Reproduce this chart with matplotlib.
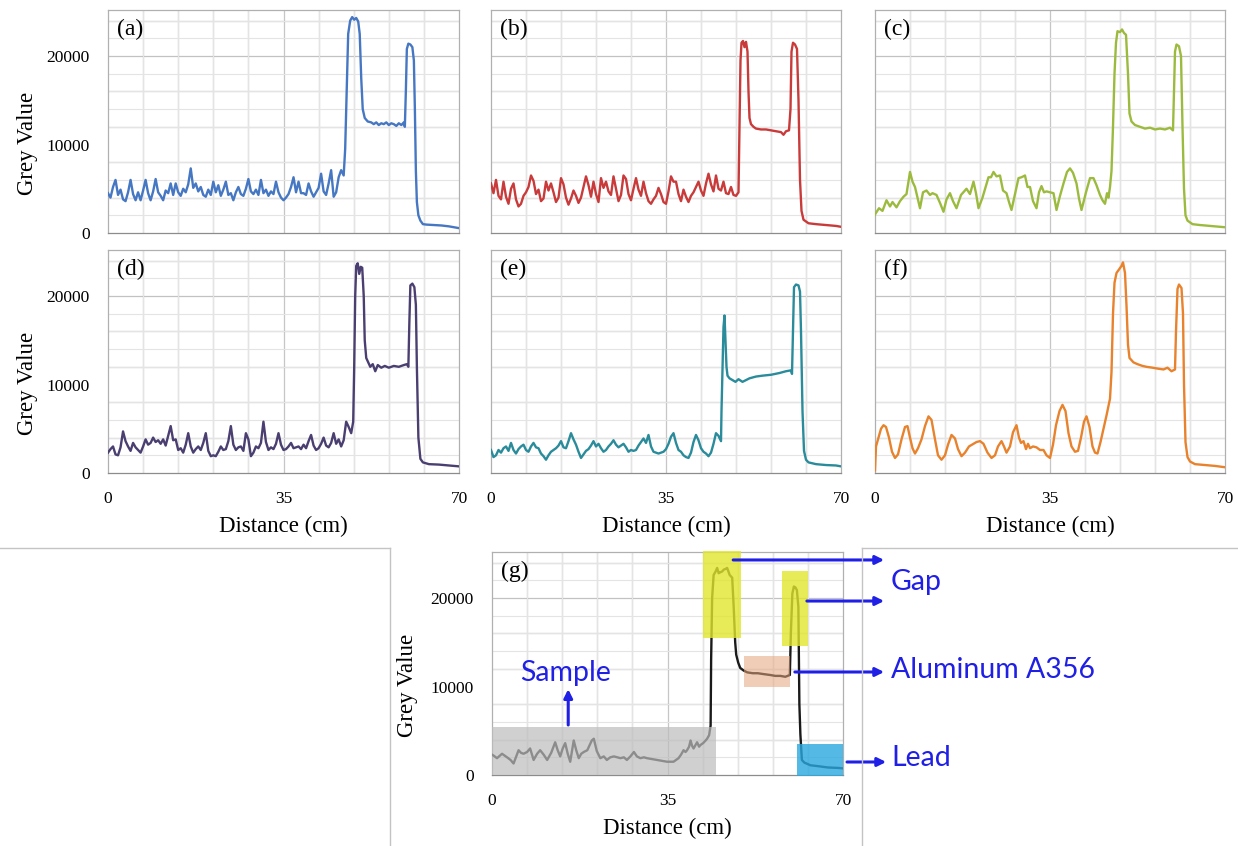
import numpy as np
import matplotlib
matplotlib.use("Agg")
import matplotlib.pyplot as plt
from matplotlib.ticker import MultipleLocator, FixedLocator
from matplotlib.lines import Line2D

# ---------------- data (grey value vs distance, cm) ----------------
STEP = 0.5  # sampling step of the noisy baseline lists (cm)

base_a = [4500, 4000, 5200, 6000, 4300, 4900, 3800, 3600, 4600, 6000, 4400, 3700, 4600, 3700, 4800, 6000,
          4500, 3700, 4700, 6100, 4600, 4200, 3700, 4800, 4500, 5600, 4300, 5600, 4600, 4200, 5000, 4600,
          5500, 7300, 5100, 5600, 4700, 5200, 4300, 4100, 4900, 4300, 5800, 4600, 5400, 4200, 4900, 5800,
          4300, 4500, 3700, 4600, 5200, 4400, 4200, 5000, 6100, 4700, 4400, 4900, 4300, 6000, 4500, 4900,
          4200, 4700, 4400, 5800, 4600, 4000, 3700, 4000, 4400, 5200, 6300, 4600, 5800, 4500, 4500, 4300,
          5600, 4700, 4100, 4600, 5100, 6700, 4700, 4300, 5600, 7100, 4100, 4600, 6300, 7100]
tail_x_a = [47.0, 47.3, 47.6, 47.9, 48.3, 48.7, 49.1, 49.5, 49.9, 50.2, 50.5, 50.8, 51.2, 51.8, 52.5, 53.0,
            53.5, 54.0, 54.5, 55.0, 55.5, 56.0, 56.5, 57.0, 57.5, 58.0, 58.5, 59.0, 59.2, 59.4, 59.6, 59.9,
            60.3, 60.7, 61.0, 61.2, 61.4, 61.6, 61.9, 62.3, 62.8, 63.5, 65.0, 66.5, 68.0, 69.0, 70.0]
tail_y_a = [6500, 9500, 16000, 22500, 24000, 24400, 24100, 24300, 23900, 22500, 17500, 14000, 13000, 12600,
            12500, 12300, 12500, 12200, 12400, 12300, 12500, 12200, 12400, 12300, 12100, 12400, 12200, 12500,
            12000, 16000, 20800, 21400, 21300, 21000, 19500, 14000, 7000, 3500, 2000, 1400, 1000, 950, 900,
            850, 750, 650, 550]

base_b = [5600, 4500, 6000, 4200, 3800, 5800, 4100, 3300, 5000, 5600, 3800, 3000, 3300, 4200, 4600, 5200,
          6500, 5900, 4400, 4900, 3600, 3900, 5800, 4800, 5600, 4600, 3500, 4000, 6200, 5500, 4000, 3200,
          3900, 4800, 4200, 3400, 4000, 5200, 6400, 5400, 4100, 5800, 4400, 3500, 6200, 5100, 5800, 4700,
          4300, 6400, 5000, 3600, 4300, 6500, 6100, 4400, 3700, 5000, 6200, 4900, 4200, 5800, 4500, 3600,
          3300, 3800, 4200, 5100, 4400, 3500, 3300, 4700, 6400, 5800, 5800, 4400, 3600, 4900, 4100, 3500,
          4200, 4600, 5200, 5800, 4800, 4200, 5600, 6700, 5500, 4700, 6500, 5000, 4800, 5800, 4500, 4400,
          5200, 4300, 4200, 4600]
tail_x_b = [49.7, 49.9, 50.1, 50.4, 50.7, 51.0, 51.3, 51.5, 51.7, 52.0, 52.5, 53.0, 54.0, 55.0, 56.0, 57.0,
            58.0, 58.5, 59.0, 59.6, 59.9, 60.1, 60.4, 60.8, 61.2, 61.5, 61.8, 62.1, 62.5, 63.5, 65.0, 67.0,
            69.0, 70.0]
tail_y_b = [12000, 19500, 21500, 21700, 21000, 21600, 20500, 16000, 13000, 12300, 12000, 11800, 11700,
            11700, 11600, 11500, 11400, 11100, 11500, 11600, 14000, 20500, 21500, 21300, 20800, 15000, 6000,
            2500, 1500, 1100, 1000, 900, 800, 700]

x_c = [0.0, 0.8, 1.5, 2.3, 3.0, 3.5, 4.3, 5.0, 5.7, 6.3, 7.0, 7.5, 8.0, 8.5, 9.0, 9.6, 10.3, 11.0, 11.5,
       12.3, 13.0, 13.7, 14.3, 15.0, 15.6, 16.3, 17.2, 18.3, 19.0, 19.7, 20.2, 20.7, 21.5, 22.7, 23.2, 23.7,
       24.3, 25.0, 25.6, 26.3, 26.8, 27.3, 28.0, 28.7, 29.3, 30.0, 30.5, 31.0, 31.6, 32.3, 32.8, 33.3, 33.8,
       34.3, 35.0, 35.7, 36.3, 37.0, 37.7, 38.4, 39.0, 39.6, 40.3, 40.8, 41.3, 42.2, 43.0, 43.7, 44.3, 45.0,
       45.5, 46.0, 46.4, 46.7, 47.0, 47.3, 47.6, 47.9, 48.2, 48.5, 49.0, 49.4, 49.8, 50.2, 50.6, 50.9, 51.3,
       52.0, 53.0, 54.0, 55.0, 56.0, 57.0, 58.0, 59.0, 59.6, 59.8, 60.0, 60.3, 60.8, 61.2, 61.5, 61.8, 62.1,
       62.5, 63.5, 65.0, 67.0, 69.0, 70.0]
y_c = [2100, 2800, 2500, 3700, 3000, 3500, 2900, 3600, 4100, 4400, 6900, 5800, 5200, 4000, 2800, 4600, 4800,
       4300, 4500, 4300, 3400, 2400, 3800, 4500, 3600, 2800, 4300, 5000, 4400, 5800, 4500, 2800, 4000, 6300,
       6300, 6900, 6400, 6500, 4800, 4500, 3500, 2600, 4400, 6200, 6300, 6500, 5200, 5200, 3600, 2800, 4600,
       5300, 4600, 4700, 4600, 4500, 2600, 4200, 5600, 6900, 7300, 6800, 5600, 3900, 2600, 4600, 6200, 6200,
       5400, 4300, 3700, 3300, 4500, 4000, 5200, 7000, 12000, 18000, 21500, 22800, 22700, 23000, 22600, 22400,
       18000, 13500, 12600, 12200, 12000, 11800, 11900, 11700, 11800, 11700, 11900, 11600, 16000, 20500,
       21300, 21100, 20000, 12000, 5000, 2000, 1400, 1000, 900, 800, 700, 650]

base_d = [2300, 2700, 3000, 2100, 2000, 2900, 4700, 3600, 3000, 2500, 3400, 2900, 2600, 2300, 3000, 3800,
          3200, 3400, 4000, 3500, 3700, 3300, 3800, 3100, 4200, 5300, 3700, 3800, 2600, 2800, 2300, 3200,
          4500, 3000, 2300, 2700, 3000, 2600, 3400, 4500, 2500, 1900, 2000, 1900, 2400, 3000, 2600, 2700,
          3600, 5300, 3200, 2600, 2900, 3000, 2500, 4500, 3800, 1900, 2300, 3000, 2800, 3400, 5800, 3500,
          2600, 2900, 2700, 3300, 4500, 3200, 2600, 2700, 3000, 3400, 2800, 2900, 3000, 2700, 3200, 2800,
          3600, 4300, 3100, 2600, 2800, 3300, 4000, 3100, 2900, 3400, 4500, 3300, 3800, 3000, 3700, 5800,
          5200, 4500]
tail_x_d = [48.9, 49.1, 49.3, 49.5, 49.8, 50.1, 50.4, 50.7, 51.0, 51.2, 51.5, 51.9, 52.3, 52.8, 53.3, 53.8,
            54.5, 55.2, 56.0, 57.0, 58.0, 59.0, 59.6, 59.9, 60.1, 60.3, 60.7, 61.1, 61.4, 61.6, 61.9, 62.3,
            62.8, 64.0, 66.0, 68.0, 70.0]
tail_y_d = [5800, 12000, 20000, 23400, 23700, 22500, 23300, 23200, 20000, 15000, 13000, 12500, 12000, 12300,
            11500, 12200, 11900, 12100, 11900, 12100, 12000, 12200, 12300, 12000, 17000, 21200, 21400, 21000,
            19000, 12000, 4000, 1600, 1200, 1000, 950, 850, 750]

base_e = [2600, 1800, 2000, 2600, 2300, 2800, 3000, 2500, 3400, 2600, 2200, 2700, 3000, 3200, 2600, 2400,
          3000, 3400, 2900, 2800, 2200, 1900, 1500, 2000, 2400, 2600, 2800, 3100, 3600, 2900, 2800, 3600,
          4500, 3800, 3200, 2400, 1700, 2100, 2500, 2700, 3100, 3600, 3000, 3300, 2800, 2400, 2600, 3000,
          3300, 3700, 3200, 2900, 3100, 3300, 2900, 2400, 2600, 2500, 2600, 3100, 3500, 3900, 3400, 4300,
          3000, 2400, 2300, 2200, 2300, 2400, 2700, 3300, 4100, 4500, 3400, 2600, 2400, 2000, 1800, 1700,
          2300, 3500, 4300, 3700, 2800, 2400, 2200, 1900, 2300, 3300, 4500, 4200, 3600]
tail_x_e = [46.1, 46.3, 46.5, 46.7, 46.9, 47.1, 47.3, 47.7, 48.3, 48.9, 49.5, 50.3, 51.0, 51.7, 53.0, 54.3,
            56.0, 57.7, 59.0, 60.0, 60.2, 60.4, 60.6, 61.0, 61.5, 61.8, 62.0, 62.3, 62.6, 63.0, 63.5, 65.0,
            67.0, 69.0, 70.0]
tail_y_e = [7000, 12000, 16500, 17800, 15000, 12000, 11000, 10700, 10500, 10300, 10600, 10300, 10500, 10700,
            10900, 11000, 11100, 11300, 11500, 11600, 11200, 16000, 21000, 21300, 21200, 20500, 16000, 7000,
            2500, 1500, 1200, 1000, 900, 850, 750]

x_f = [0.0, 0.2, 0.7, 1.2, 1.7, 2.2, 2.8, 3.4, 4.0, 4.6, 5.3, 6.0, 6.5, 7.0, 7.5, 8.0, 8.6, 9.3, 10.0, 10.7,
       11.3, 12.0, 12.6, 13.3, 14.0, 14.6, 15.3, 16.0, 16.6, 17.3, 18.0, 18.8, 19.7, 20.3, 21.0, 21.7, 22.5,
       23.3, 24.0, 24.6, 25.3, 25.8, 26.3, 27.0, 27.6, 28.3, 28.8, 29.2, 29.7, 30.2, 30.6, 31.0, 31.6, 32.3,
       33.0, 33.7, 34.3, 35.0, 35.6, 36.2, 36.9, 37.5, 38.1, 38.7, 39.3, 40.0, 40.6, 41.2, 41.8, 42.3, 42.9,
       43.5, 44.0, 44.5, 45.1, 45.7, 46.3, 47.0, 47.3, 47.6, 47.9, 48.3, 48.8, 49.3, 49.6, 50.0, 50.3, 50.6,
       50.9, 51.7, 52.5, 53.5, 54.3, 55.5, 56.5, 57.7, 58.5, 59.3, 60.0, 60.2, 60.5, 60.8, 61.3, 61.6, 61.8,
       62.1, 62.5, 63.0, 64.0, 66.0, 68.0, 70.0]
y_f = [300, 3000, 4000, 5000, 5400, 5200, 4000, 2400, 1700, 2100, 3800, 5200, 5300, 4000, 2800, 2200, 2800,
       3800, 5300, 6400, 6000, 3800, 2000, 1500, 2000, 3200, 4300, 3900, 2700, 1900, 2300, 3000, 3300, 3500,
       3600, 3300, 2300, 1700, 2000, 3000, 3600, 3000, 2300, 3000, 4600, 5400, 4000, 3400, 3600, 2700, 3300,
       2800, 3000, 2900, 2600, 2600, 2000, 1700, 3200, 5400, 7000, 7700, 7000, 4500, 3000, 2400, 2500, 4000,
       5800, 6400, 5200, 3000, 2300, 2200, 3500, 5000, 6500, 8400, 11400, 18000, 21500, 22600, 23000, 23400,
       23800, 22600, 18900, 14500, 13000, 12500, 12300, 12100, 12000, 11900, 11800, 11700, 11900, 11500,
       11700, 16000, 20800, 21300, 20900, 18000, 10000, 3500, 1800, 1300, 1000, 900, 800, 650]

x_g = [0.0, 0.3, 1.0, 2.0, 3.0, 3.7, 4.3, 5.3, 5.8, 6.3, 7.0, 7.6, 8.3, 9.0, 9.6, 10.3, 11.0, 11.8, 12.6,
       13.1, 13.6, 14.1, 14.6, 15.1, 15.6, 16.3, 16.8, 17.3, 17.8, 18.3, 19.0, 19.9, 20.3, 20.9, 21.6, 22.3,
       22.9, 23.6, 24.3, 25.0, 25.6, 26.3, 26.9, 27.6, 28.3, 28.9, 29.6, 30.3, 30.9, 31.9, 32.9, 33.9, 34.9,
       35.6, 36.2, 36.7, 37.2, 37.7, 38.2, 38.6, 38.9, 39.3, 39.6, 39.9, 40.2, 40.6, 40.9, 41.3, 41.6, 42.1,
       42.6, 42.9, 43.3, 43.6, 43.7, 43.9, 44.2, 44.6, 44.9, 45.2, 45.5, 45.9, 46.2, 46.6, 46.9, 47.4, 47.9,
       48.2, 48.5, 48.7, 49.1, 49.5, 50.2, 50.9, 52.0, 53.0, 54.2, 55.5, 56.5, 57.5, 58.5, 59.4, 59.6, 59.9,
       60.2, 60.5, 60.8, 61.1, 61.3, 61.5, 61.8, 62.3, 63.5, 65.0, 67.0, 69.0, 70.0]
y_g = [2300, 2200, 1900, 2400, 2000, 1700, 1300, 2800, 2500, 2400, 2600, 3000, 1700, 2400, 2800, 2300, 1700,
       2500, 3700, 2800, 2100, 3000, 3600, 2400, 1500, 3900, 2800, 1900, 2400, 2600, 2800, 3900, 4100, 2700,
       1900, 2100, 1700, 2000, 2100, 2000, 1900, 2000, 1700, 2100, 2600, 2100, 1900, 2000, 1900, 1800, 1700,
       1600, 1500, 1500, 1500, 1700, 1900, 2300, 2800, 2600, 2800, 3200, 3900, 3300, 3000, 3400, 3700, 3200,
       3400, 3600, 3900, 4100, 4500, 5600, 13000, 20000, 22600, 23000, 23400, 22800, 22900, 23000, 23200,
       23300, 23400, 22600, 22300, 19000, 15000, 13600, 12700, 12100, 11800, 11600, 11500, 11500, 11400,
       11300, 11200, 11200, 11100, 11300, 16000, 20500, 21300, 21200, 20900, 19000, 8000, 4600, 1700, 1400,
       1100, 1000, 850, 800, 750]

panel_labels = ["(a)", "(b)", "(c)", "(d)", "(e)", "(f)", "(g)"]
colors = ["#4677c2", "#c93a3a", "#9cbb3e", "#4a3f70", "#2a8b9b", "#e8822c", "#1a1a1a"]
x_ticks = [0, 35, 70]
x_ticklabels = ["0", "35", "70"]
y_ticks = [0, 10000, 20000]
y_ticklabels = ["0", "10000", "20000"]


def join(base, tx, ty):
    bx = list(np.arange(len(base)) * STEP)
    return bx + list(tx), list(base) + list(ty)


series = [
    join(base_a, tail_x_a, tail_y_a),
    join(base_b, tail_x_b, tail_y_b),
    (x_c, y_c),
    join(base_d, tail_x_d, tail_y_d),
    join(base_e, tail_x_e, tail_y_e),
    (x_f, y_f),
    (x_g, y_g),
]

# ---------------- layout ----------------
W, H = 1238, 846
fig = plt.figure(figsize=(W / 100, H / 100), dpi=100)
fig.patch.set_facecolor("white")
SERIF = ["Liberation Serif", "DejaVu Serif"]
SANS = ["Lato", "DejaVu Sans"]

# pixel boxes: left, right, top, bottom
boxes = [
    (108, 459, 10, 233), (491, 841, 10, 233), (875, 1225, 10, 233),
    (108, 459, 250, 473), (491, 841, 250, 473), (875, 1225, 250, 473),
    (492, 843, 552, 775),
]
YMAX = 25200

axes = []
for i, (l, r, t, b) in enumerate(boxes):
    ax = fig.add_axes([l / W, 1 - b / H, (r - l) / W, (b - t) / H])
    x, y = series[i]
    ax.set_xlim(0, 70)
    ax.set_ylim(0, YMAX)
    # grid
    ax.xaxis.set_major_locator(FixedLocator(x_ticks))
    ax.xaxis.set_minor_locator(MultipleLocator(7))
    ax.yaxis.set_major_locator(FixedLocator(y_ticks))
    ax.yaxis.set_minor_locator(MultipleLocator(2000))
    ax.grid(False)
    ax.grid(which="minor", axis="both", color="#e4e4e4", lw=0.8, zorder=0)
    for xv in range(7, 70, 7):
        ax.axvline(xv, color="#c6c6c6", lw=0.9, zorder=0.5)
    for yv in range(4000, 25000, 4000):
        ax.axhline(yv, color="#c2c2c2", lw=0.9, zorder=0.5)
    ax.tick_params(which="both", length=0)
    for sp in ax.spines.values():
        sp.set_color("#b0b0b0")
        sp.set_linewidth(0.9)
    ax.spines["bottom"].set_color("#8c8c8c")

    ax.plot(x, y, color=colors[i], lw=1.7, zorder=3, solid_joinstyle="round")

    ax.text(0.026, 0.915, panel_labels[i], transform=ax.transAxes, fontsize=17,
            family=SERIF, va="center", ha="left", zorder=5)

    col = i % 3 if i < 6 else 0
    row = i // 3 if i < 6 else 2
    if col == 0 or i == 6:
        ax.set_yticklabels(y_ticklabels, family=SERIF, fontsize=12.5)
        ax.tick_params(axis="y", pad=13)
        ax.set_ylabel("Grey Value", family=SERIF, fontsize=16.5)
        lx = (38 - l) / (r - l) if i != 6 else (418 - l) / (r - l)
        ax.yaxis.set_label_coords(lx, 0.40)
    else:
        ax.set_yticklabels([])
    if row >= 1:
        ax.set_xticklabels(x_ticklabels, family=SERIF, fontsize=12.5)
        ax.tick_params(axis="x", pad=13)
        ax.set_xlabel("Distance (cm)", family=SERIF, fontsize=16.5, labelpad=6)
    else:
        ax.set_xticklabels([])
    axes.append(ax)

# ---------------- annotations on panel (g) ----------------
axg = axes[6]
highlights = [
    # (x0, y0, x1, y1, color, alpha)
    (0.0, 0, 44.7, 5400, "#bdbdbd", 0.7),
    (42.1, 15500, 49.7, 25300, "#e2e62e", 0.8),
    (57.8, 14600, 63.0, 23000, "#e2e62e", 0.8),
    (50.2, 9900, 59.4, 13400, "#e4a57c", 0.55),
    (60.8, -150, 70.0, 3500, "#2aa8e0", 0.8),
]
for x0, y0, x1, y1, c, a in highlights:
    axg.add_patch(plt.Rectangle((x0, y0), x1 - x0, y1 - y0, facecolor=c, edgecolor="none",
                                alpha=a, zorder=4, clip_on=False))

BLUE = "#1f1fe6"
arrows = [
    ((48.1, 24300), (78.2, 24300)),
    ((62.8, 19660), (78.2, 19660)),
    ((60.4, 11640), (78.2, 11640)),
    ((70.8, 1470), (78.6, 1470)),
    ((15.2, 5650), (15.2, 9700)),
]
for (sx, sy), (ex, ey) in arrows:
    axg.annotate("", xy=(ex, ey), xytext=(sx, sy), xycoords="data", textcoords="data",
                 annotation_clip=False,
                 arrowprops=dict(arrowstyle="-|>,head_length=0.5,head_width=0.25", color=BLUE,
                                 lw=2.2, shrinkA=0, shrinkB=0), zorder=6)

labels_g = [("Gap", 79.4, 21810, "left"), ("Aluminum A356", 79.6, 11865, "left"),
            ("Lead", 79.6, 1920, "left"), ("Sample", 14.6, 11530, "center")]
for txt, tx, ty, ha in labels_g:
    axg.text(tx, ty, txt, color=BLUE, fontsize=20.5, family=SANS, ha=ha, va="center",
             clip_on=False, zorder=6)

# ---------------- separator lines (pasted panel borders) ----------------
sep = "#c4c4c4"
for (x0, y0), (x1, y1) in [((0, 548), (390, 548)), ((390, 548), (390, 846)),
                           ((862, 548), (1238, 548)), ((862, 548), (862, 846))]:
    fig.add_artist(Line2D([x0 / W, x1 / W], [1 - y0 / H, 1 - y1 / H], color=sep, lw=1.0))

fig.savefig("out.png", dpi=100, facecolor="white")
